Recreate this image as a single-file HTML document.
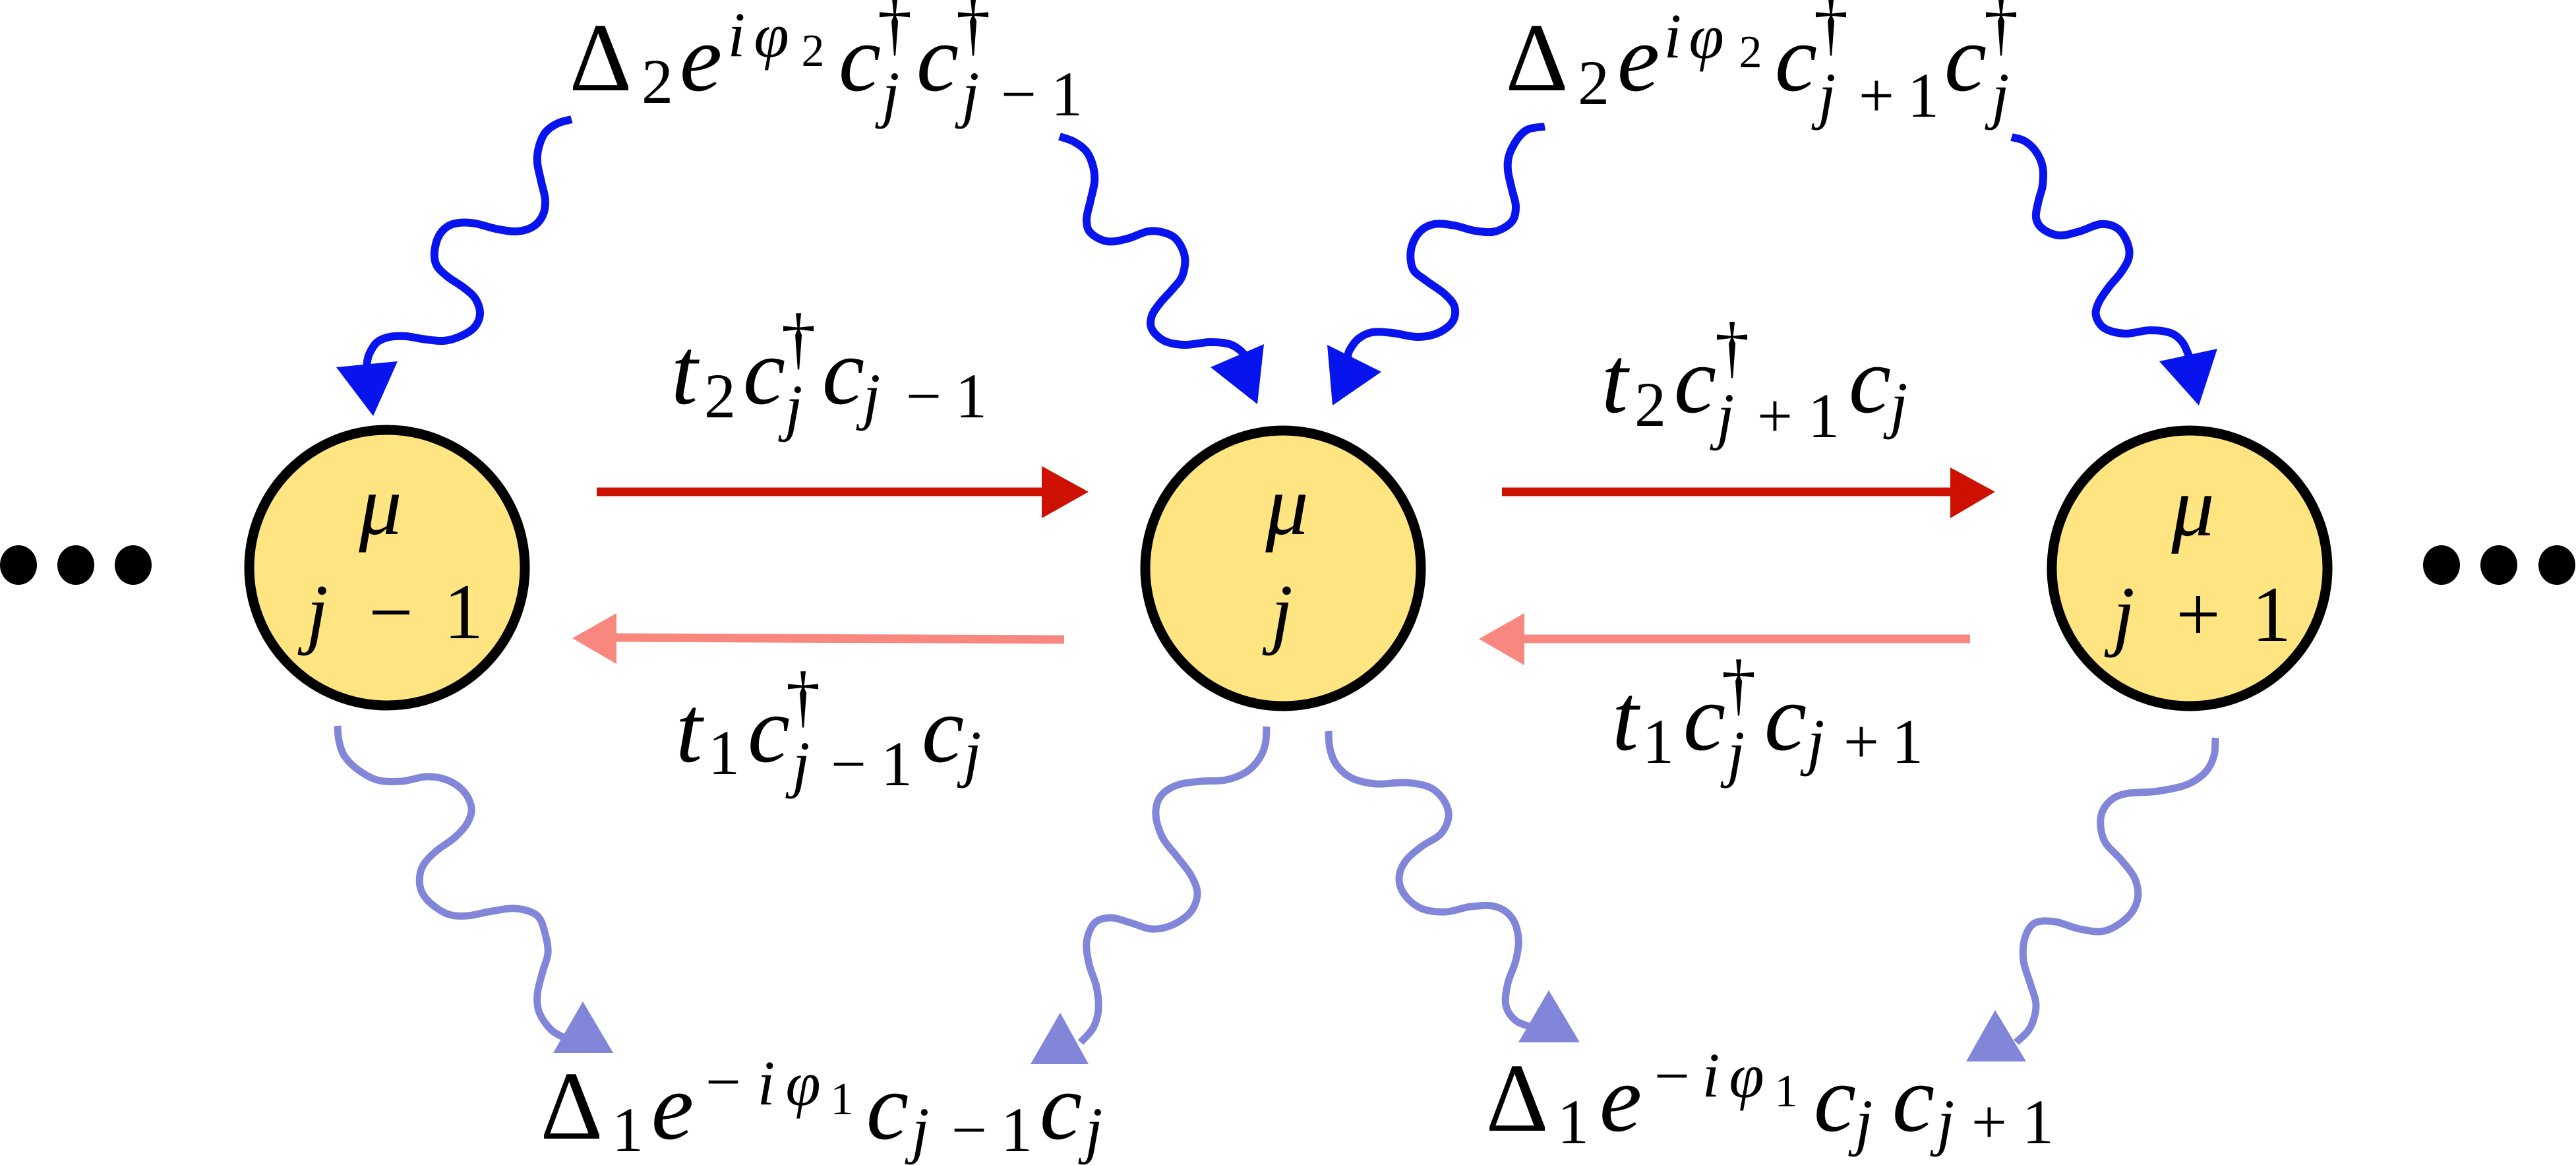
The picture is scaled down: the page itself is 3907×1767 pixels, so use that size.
<!DOCTYPE html>
<html>
<head>
<meta charset="utf-8">
<style>
html,body{margin:0;padding:0;background:#fff;}
svg{display:block;}
text{font-family:"Liberation Serif","DejaVu Serif",serif;fill:#000;text-anchor:middle;}
.m{font-size:145px;font-style:italic;}
.s{font-size:96px;font-style:italic;}
.sn{font-size:96px;}
.ss{font-size:70px;}
.D{font-size:148px;}
.dg{font-size:105px;}
.mu{font-size:130px;font-style:italic;}
.ci{font-size:120px;font-style:italic;}
.cn{font-size:120px;}
.wb{fill:none;stroke:#0814ee;stroke-width:12;stroke-linejoin:round;}
.wl{fill:none;stroke:#8186d9;stroke-width:11;stroke-linejoin:round;}
</style>
</head>
<body>
<svg id="s" width="3907" height="1767" viewBox="0 0 3907 1767" xmlns="http://www.w3.org/2000/svg" font-family="Liberation Serif, DejaVu Serif, serif">
<rect width="3907" height="1767" fill="#fff"/>

<!-- dots -->
<g fill="#000">
<ellipse cx="28" cy="857" rx="28" ry="30"/>
<ellipse cx="115" cy="857" rx="28" ry="30"/>
<ellipse cx="202" cy="857" rx="28" ry="30"/>
<ellipse cx="3703" cy="857" rx="28" ry="30"/>
<ellipse cx="3790" cy="857" rx="28" ry="30"/>
<ellipse cx="3878" cy="857" rx="28" ry="30"/>
</g>

<!-- circles -->
<g fill="#fee582" stroke="#000" stroke-width="15">
<circle cx="587" cy="861" r="209"/>
<circle cx="1946" cy="862" r="209"/>
<circle cx="3321" cy="862" r="209"/>
</g>

<!-- circle text -->
<text class="mu" x="577" y="810">μ</text>
<text class="ci" x="481" y="969">j</text>
<text class="cn" x="593" y="969">−</text>
<text class="cn" x="703" y="968">1</text>

<text class="mu" x="1952" y="810">μ</text>
<text class="ci" x="1944" y="969">j</text>

<text class="mu" x="3326" y="812">μ</text>
<text class="ci" x="3221" y="972">j</text>
<text class="cn" x="3334" y="972">+</text>
<text class="cn" x="3445" y="972">1</text>

<!-- red arrows -->
<line x1="905" y1="746" x2="1590" y2="746" stroke="#cc1100" stroke-width="13"/>
<polygon points="1580,707 1651,746 1580,786" fill="#cc1100"/>
<line x1="2278" y1="746" x2="2965" y2="746" stroke="#cc1100" stroke-width="13"/>
<polygon points="2958,709 3026,746 2958,786" fill="#cc1100"/>

<!-- pink arrows -->
<line x1="1614" y1="970" x2="928" y2="967" stroke="#f7877f" stroke-width="13"/>
<polygon points="935,930 868,968 935,1007" fill="#f7877f"/>
<line x1="2988" y1="969" x2="2305" y2="969" stroke="#f7877f" stroke-width="13"/>
<polygon points="2312,930 2243,969 2312,1009" fill="#f7877f"/>

<!-- top wavy lines -->
<polyline class="wb w" points="867,181 846,187 827,201 817,224 815,247 821,276 827,304 823,327 808,344 783,351 752,347 721,339 696,338 678,344 665,359 659,382 662,402 678,419 703,436 721,453 728,476 719,497 696,511 672,517 640,514 616,510 591,511 572,519 560,537 556,554"/>
<polygon points="510,557 603,548 566,631" fill="#0814ee"/>

<polyline class="wb w" points="1607,207 1629,215 1648,230 1658,253 1660,276 1654,304 1648,333 1654,353 1679,366 1710,362 1741,351 1766,353 1785,364 1797,390 1793,419 1778,439 1760,459 1747,479 1747,499 1766,517 1797,523 1834,519 1865,522 1884,534 1890,545"/>
<polygon points="1836,557 1917,522 1907,613" fill="#0814ee"/>

<polyline class="wb w" points="2343,192 2318,196 2302,210 2289,235 2287,258 2293,287 2299,313 2293,336 2268,351 2237,350 2206,342 2175,340 2152,353 2140,379 2143,408 2162,425 2190,445 2206,465 2203,488 2181,505 2150,511 2112,505 2081,504 2060,514 2047,531 2044,542"/>
<polygon points="2013,523 2095,564 2021,615" fill="#0814ee"/>

<polyline class="wb w" points="3051,208 3071,214 3088,230 3098,253 3098,281 3092,304 3088,330 3098,347 3123,357 3154,351 3186,340 3211,346 3226,367 3229,390 3217,413 3198,436 3183,459 3179,479 3192,498 3223,506 3260,501 3292,505 3310,519 3320,540"/>
<polygon points="3275,548 3363,529 3335,615" fill="#0814ee"/>

<!-- bottom wavy lines -->
<polyline class="wl w" points="512,1101 514,1123 522,1146 541,1166 572,1183 609,1185 647,1178 678,1183 703,1200 715,1225 709,1248 690,1270 659,1293 640,1316 637,1344 649,1366 678,1386 709,1389 746,1382 783,1378 815,1389 827,1417 831,1446 823,1474 815,1508 818,1536 836,1562 858,1575"/>
<polygon points="884,1519 930,1597 839,1597" fill="#8186d9"/>

<polyline class="wl w" points="1921,1102 1919,1129 1909,1152 1890,1171 1859,1183 1822,1185 1785,1191 1760,1208 1753,1236 1763,1270 1785,1299 1806,1327 1816,1355 1806,1383 1778,1403 1747,1409 1716,1400 1685,1392 1660,1400 1648,1429 1652,1463 1663,1497 1666,1531 1658,1559 1639,1581"/>
<polygon points="1608,1536 1651,1614 1563,1614" fill="#8186d9"/>

<polyline class="wl w" points="2015,1109 2017,1135 2027,1160 2050,1180 2087,1189 2131,1187 2168,1194 2190,1214 2197,1239 2185,1265 2156,1284 2131,1307 2122,1333 2131,1358 2156,1378 2193,1383 2231,1375 2268,1375 2293,1392 2303,1423 2299,1457 2287,1491 2284,1525 2299,1548 2324,1558"/>
<polygon points="2349,1502 2396,1581 2303,1581" fill="#8186d9"/>

<polyline class="wl w" points="3360,1119 3358,1146 3345,1171 3317,1190 3273,1200 3223,1204 3198,1217 3186,1242 3192,1276 3217,1304 3238,1333 3242,1364 3226,1392 3192,1412 3154,1409 3117,1398 3086,1400 3071,1423 3069,1457 3079,1491 3088,1525 3079,1559 3058,1581"/>
<polygon points="3026,1532 3073,1610 2982,1610" fill="#8186d9"/>

<!-- Top-left label: Δ2 e^{iφ2} c†_j c†_{j−1} -->
<text class="D" x="911" y="137">Δ</text>
<text class="sn" x="997" y="156">2</text>
<text class="m" x="1063" y="137">e</text>
<text class="s" x="1117" y="85">i</text>
<text class="s" x="1170" y="86">φ</text>
<text class="ss" x="1233" y="100">2</text>
<text class="m" x="1304" y="137">c</text>
<text class="dg" x="1357" y="72">†</text>
<text class="s" x="1351" y="175">j</text>
<text class="m" x="1422" y="137">c</text>
<text class="dg" x="1476" y="72">†</text>
<text class="s" x="1472" y="175">j</text>
<text class="sn" x="1545" y="175">−</text>
<text class="sn" x="1618" y="175">1</text>

<!-- Top-right label: Δ2 e^{iφ2} c†_{j+1} c†_j -->
<text class="D" x="2331" y="137">Δ</text>
<text class="sn" x="2417" y="158">2</text>
<text class="m" x="2485" y="137">e</text>
<text class="s" x="2537" y="87">i</text>
<text class="s" x="2588" y="88">φ</text>
<text class="ss" x="2655" y="102">2</text>
<text class="m" x="2724" y="137">c</text>
<text class="dg" x="2777" y="72">†</text>
<text class="s" x="2771" y="177">j</text>
<text class="sn" x="2846" y="177">+</text>
<text class="sn" x="2917" y="177">1</text>
<text class="m" x="2981" y="137">c</text>
<text class="dg" x="3035" y="72">†</text>
<text class="s" x="3034" y="177">j</text>

<!-- t2 left: t2 c†_j c_{j−1} -->
<text class="m" x="1038" y="612">t</text>
<text class="sn" x="1092" y="633">2</text>
<text class="m" x="1159" y="612">c</text>
<text class="dg" x="1211" y="548">†</text>
<text class="s" x="1204" y="650">j</text>
<text class="m" x="1279" y="612">c</text>
<text class="s" x="1322" y="633">j</text>
<text class="sn" x="1401" y="633">−</text>
<text class="sn" x="1473" y="633">1</text>

<!-- t2 right: t2 c†_{j+1} c_j -->
<text class="m" x="2449" y="625">t</text>
<text class="sn" x="2503" y="646">2</text>
<text class="m" x="2571" y="625">c</text>
<text class="dg" x="2627" y="561">†</text>
<text class="s" x="2617" y="663">j</text>
<text class="sn" x="2692" y="663">+</text>
<text class="sn" x="2766" y="663">1</text>
<text class="m" x="2836" y="625">c</text>
<text class="s" x="2880" y="646">j</text>

<!-- t1 left: t1 c†_{j−1} c_j -->
<text class="m" x="1045" y="1155">t</text>
<text class="sn" x="1098" y="1174">1</text>
<text class="m" x="1166" y="1155">c</text>
<text class="dg" x="1218" y="1091">†</text>
<text class="s" x="1215" y="1191">j</text>
<text class="sn" x="1287" y="1191">−</text>
<text class="sn" x="1360" y="1191">1</text>
<text class="m" x="1430" y="1155">c</text>
<text class="s" x="1475" y="1175">j</text>

<!-- t1 right: t1 c†_j c_{j+1} -->
<text class="m" x="2465" y="1137">t</text>
<text class="sn" x="2515" y="1157">1</text>
<text class="m" x="2585" y="1137">c</text>
<text class="dg" x="2637" y="1073">†</text>
<text class="s" x="2633" y="1175">j</text>
<text class="m" x="2708" y="1137">c</text>
<text class="s" x="2754" y="1157">j</text>
<text class="sn" x="2823" y="1157">+</text>
<text class="sn" x="2893" y="1157">1</text>

<!-- bottom-left: Δ1 e^{−iφ1} c_{j−1} c_j -->
<text class="D" x="867" y="1727">Δ</text>
<text class="sn" x="952" y="1746">1</text>
<text class="m" x="1020" y="1727">e</text>
<text class="sn" x="1097" y="1673">−</text>
<text class="s" x="1162" y="1675">i</text>
<text class="s" x="1218" y="1676">φ</text>
<text class="ss" x="1277" y="1690">1</text>
<text class="m" x="1346" y="1727">c</text>
<text class="s" x="1396" y="1746">j</text>
<text class="sn" x="1470" y="1746">−</text>
<text class="sn" x="1542" y="1746">1</text>
<text class="m" x="1609" y="1727">c</text>
<text class="s" x="1659" y="1746">j</text>

<!-- bottom-right: Δ1 e^{−iφ1} c_j c_{j+1} -->
<text class="D" x="2301" y="1715">Δ</text>
<text class="sn" x="2386" y="1734">1</text>
<text class="m" x="2458" y="1715">e</text>
<text class="sn" x="2536" y="1664">−</text>
<text class="s" x="2595" y="1663">i</text>
<text class="s" x="2649" y="1664">φ</text>
<text class="ss" x="2709" y="1678">1</text>
<text class="m" x="2783" y="1715">c</text>
<text class="s" x="2827" y="1734">j</text>
<text class="m" x="2902" y="1715">c</text>
<text class="s" x="2951" y="1734">j</text>
<text class="sn" x="3017" y="1734">+</text>
<text class="sn" x="3091" y="1734">1</text>
</svg>
<script>
(function(){
  var NS="http://www.w3.org/2000/svg";
  var pls=document.querySelectorAll('polyline.w');
  for(var k=0;k<pls.length;k++){
    var pl=pls[k];
    var pts=pl.getAttribute('points').trim().split(/\s+/).map(function(p){return p.split(',').map(Number);});
    var d='M'+pts[0][0]+','+pts[0][1];
    for(var i=0;i<pts.length-1;i++){
      var p0=pts[i-1]||pts[i],p1=pts[i],p2=pts[i+1],p3=pts[i+2]||pts[i+1];
      var c1=[p1[0]+(p2[0]-p0[0])/6,p1[1]+(p2[1]-p0[1])/6];
      var c2=[p2[0]-(p3[0]-p1[0])/6,p2[1]-(p3[1]-p1[1])/6];
      d+=' C'+c1[0].toFixed(1)+','+c1[1].toFixed(1)+' '+c2[0].toFixed(1)+','+c2[1].toFixed(1)+' '+p2[0]+','+p2[1];
    }
    var path=document.createElementNS(NS,'path');
    path.setAttribute('d',d);
    path.setAttribute('class',pl.getAttribute('class'));
    pl.parentNode.replaceChild(path,pl);
  }
})();
</script>
</body>
</html>
